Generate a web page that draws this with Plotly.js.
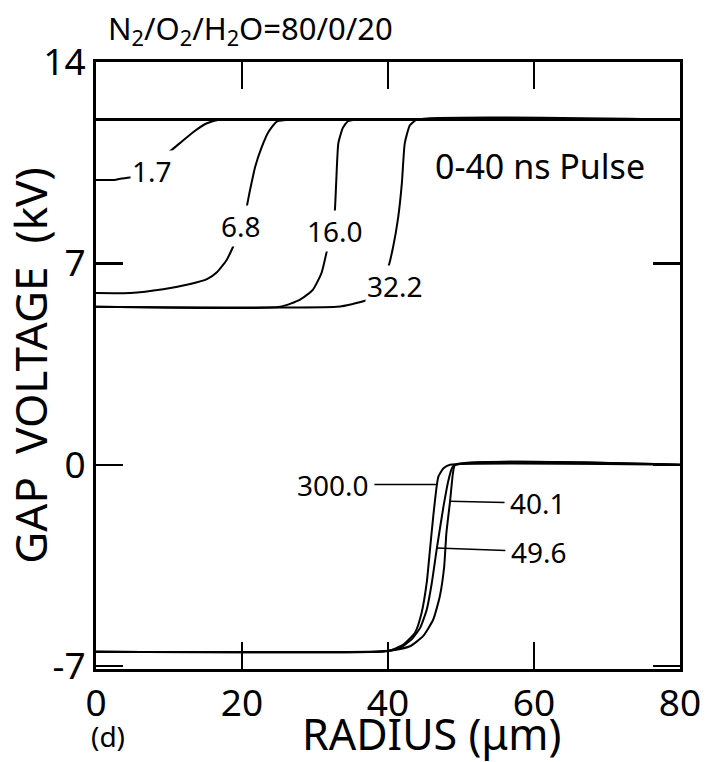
<!DOCTYPE html>
<html>
<head>
<meta charset="utf-8">
<script src="https://cdn.plot.ly/plotly-3.0.1.min.js"></script>
<style>html,body{margin:0;padding:0;background:#fff;}#chart{width:709px;height:762px;}</style>
</head>
<body>
<div id="chart"></div>
<script>
// ---- data (radius in µm, gap voltage in kV) ----
const radius_0 = [0, 80];
const volt_0 = [12, 12];

const radius_1_7 = [0, 2.5, 3.5, 5, 7.5, 9.5, 11.5, 13.3, 15.2, 17, 20, 80];
const volt_1_7 = [9.9, 9.9, 9.95, 10.0, 10.3, 10.76, 11.18, 11.56, 11.87, 12, 12, 12];

const radius_6_8 = [0, 4.7, 9.2, 12.9, 15.2, 16.6, 17.9, 19.0, 20.0, 20.5, 21.1, 21.8, 22.7, 23.6, 24.8, 27, 80];
const volt_6_8 = [5.97, 5.97, 6.1, 6.28, 6.45, 6.7, 7.12, 7.7, 8.3, 8.78, 9.55, 10.35, 11.04, 11.56, 11.94, 12, 12];

const radius_16_0 = [0, 25.2, 27.9, 29.7, 30.9, 31.6, 32.2, 32.7, 32.9, 33.2, 33.8, 34.5, 36, 80];
const volt_16_0 = [5.49, 5.49, 5.73, 6.08, 6.67, 7.4, 8.1, 8.78, 9.79, 11.18, 11.7, 11.94, 12, 12];

const radius_32_2 = [0, 33.0, 35.2, 37.1, 38.6, 40.0, 40.7, 41.4, 41.9, 42.3, 43.0, 44.0, 80];
const volt_32_2 = [5.49, 5.49, 5.59, 5.73, 6.2, 6.84, 7.57, 8.61, 9.79, 11.18, 11.8, 12, 12];

const radius_300_0 = [0, 38.6, 40.4, 42.1, 43.7, 44.6, 45.3, 45.75, 46.2, 46.7, 46.9, 47.6, 48.5, 80];
const volt_300_0 = [-6.5, -6.5, -6.45, -6.25, -5.84, -5.15, -4.11, -2.95, -1.79, -0.69, -0.41, -0.12, 0, 0];

const radius_49_6 = [0, 39.8, 41.6, 43.2, 44.4, 45.3, 46.0, 46.7, 47.6, 48.3, 49.0, 80];
const volt_49_6 = [-6.5, -6.47, -6.37, -6.08, -5.67, -5.04, -4.11, -2.89, -1.45, -0.52, -0.03, 0];

const radius_40_1 = [0, 39.0, 40.7, 43.0, 44.8, 46.2, 47.1, 47.7, 48.0, 48.5, 48.9, 49.2, 80];
const volt_40_1 = [-6.5, -6.5, -6.45, -6.31, -5.96, -5.38, -4.57, -3.53, -2.37, -1.27, -0.29, 0, 0];

const curveLabels = ["1.7", "6.8", "16.0", "32.2", "300.0", "40.1", "49.6"];
const xTicks = [0, 20, 40, 60, 80];
const yTicks = [-7, 0, 7, 14];

const FONT = "Noto Sans, Open Sans, sans-serif";
const NB = "\u00A0";

const series = [
  [radius_0, volt_0, 3],
  [radius_1_7, volt_1_7, 2],
  [radius_6_8, volt_6_8, 2],
  [radius_16_0, volt_16_0, 2],
  [radius_32_2, volt_32_2, 2],
  [radius_300_0, volt_300_0, 2],
  [radius_49_6, volt_49_6, 2],
  [radius_40_1, volt_40_1, 2]
];
const traces = series.map(s => ({
  type: "scatter", mode: "lines", x: s[0], y: s[1],
  line: {color: "#000", width: s[2], shape: "spline", smoothing: 0.5},
  hoverinfo: "skip", showlegend: false
}));

function plainLabel(text, x, y) {
  return {text: text, x: x, y: y, xref: "x", yref: "y", showarrow: false,
    font: {family: FONT, size: 28, color: "#000"}, bgcolor: "#fff", borderpad: 1,
    xanchor: "center", yanchor: "middle"};
}
function arrowLabel(text, x, y, ax, ay) {
  return {text: text, x: x, y: y, xref: "x", yref: "y", showarrow: true,
    arrowhead: 0, arrowwidth: 1.5, arrowcolor: "#000", ax: ax, ay: ay,
    font: {family: FONT, size: 28, color: "#000"}, borderpad: 5,
    xanchor: "center", yanchor: "middle"};
}

const annotations = [
  plainLabel(curveLabels[0], 7.7, 10.2),
  plainLabel(curveLabels[1], 19.9, 8.3),
  plainLabel(curveLabels[2], 32.7, 8.13),
  plainLabel(curveLabels[3], 41.0, 6.22),
  arrowLabel(curveLabels[4], 46.7, -0.69, -104, 0),
  arrowLabel(curveLabels[5], 48.5, -1.27, 88, 2),
  arrowLabel(curveLabels[6], 46.7, -2.89, 102, 4),
  {text: "0-40 ns Pulse", x: 60.8, y: 10.4, xref: "x", yref: "y", showarrow: false,
   font: {family: FONT, size: 34, color: "#000"}, xanchor: "center", yanchor: "middle"},
  {text: "(d)", x: 0.02, y: -0.11, xref: "paper", yref: "paper", showarrow: false,
   font: {family: FONT, size: 28, color: "#000"}, xanchor: "center", yanchor: "middle"},
  {text: "RADIUS" + NB + "(μm)", x: 0.575, y: -0.106, xref: "paper", yref: "paper", showarrow: false,
   font: {family: FONT, size: 43, color: "#000"}, borderpad: 0, xanchor: "center", yanchor: "middle"}
];

const layout = {
  width: 709, height: 762,
  margin: {l: 96, r: 29, t: 62, b: 93},
  paper_bgcolor: "#fff", plot_bgcolor: "#fff",
  font: {family: FONT, color: "#000"},
  title: {text: "N<sub>2</sub>/O<sub>2</sub>/H<sub>2</sub>O=80/0/20",
    font: {family: FONT, size: 31, color: "#000"},
    xref: "container", yref: "container", x: 108/709, xanchor: "left",
    y: 1 - 29/762, yanchor: "middle"},
  xaxis: {
    range: [0, 80], tickvals: xTicks, ticktext: xTicks.map(String),
    ticks: "inside", ticklen: 27, tickwidth: 2.5, tickcolor: "#000",
    showline: true, linewidth: 3, linecolor: "#000", mirror: "ticks",
    showgrid: false, zeroline: false,
    tickfont: {family: FONT, size: 37, color: "#000"}
  },
  yaxis: {
    range: [-7.1, 14], tickvals: yTicks, ticktext: yTicks.map(String),
    ticks: "inside", ticklen: 27, tickwidth: 2.5, tickcolor: "#000",
    showline: true, linewidth: 3, linecolor: "#000", mirror: "ticks",
    showgrid: false, zeroline: false,
    tickfont: {family: FONT, size: 37, color: "#000"},
    title: {text: "GAP" + NB + NB + "VOLTAGE" + NB + NB + "(kV)" + NB + NB, font: {family: FONT, size: 44, color: "#000"}, standoff: 4}
  },
  annotations: annotations
};

Plotly.newPlot("chart", traces, layout, {staticPlot: true, displayModeBar: false});
</script>
</body>
</html>
